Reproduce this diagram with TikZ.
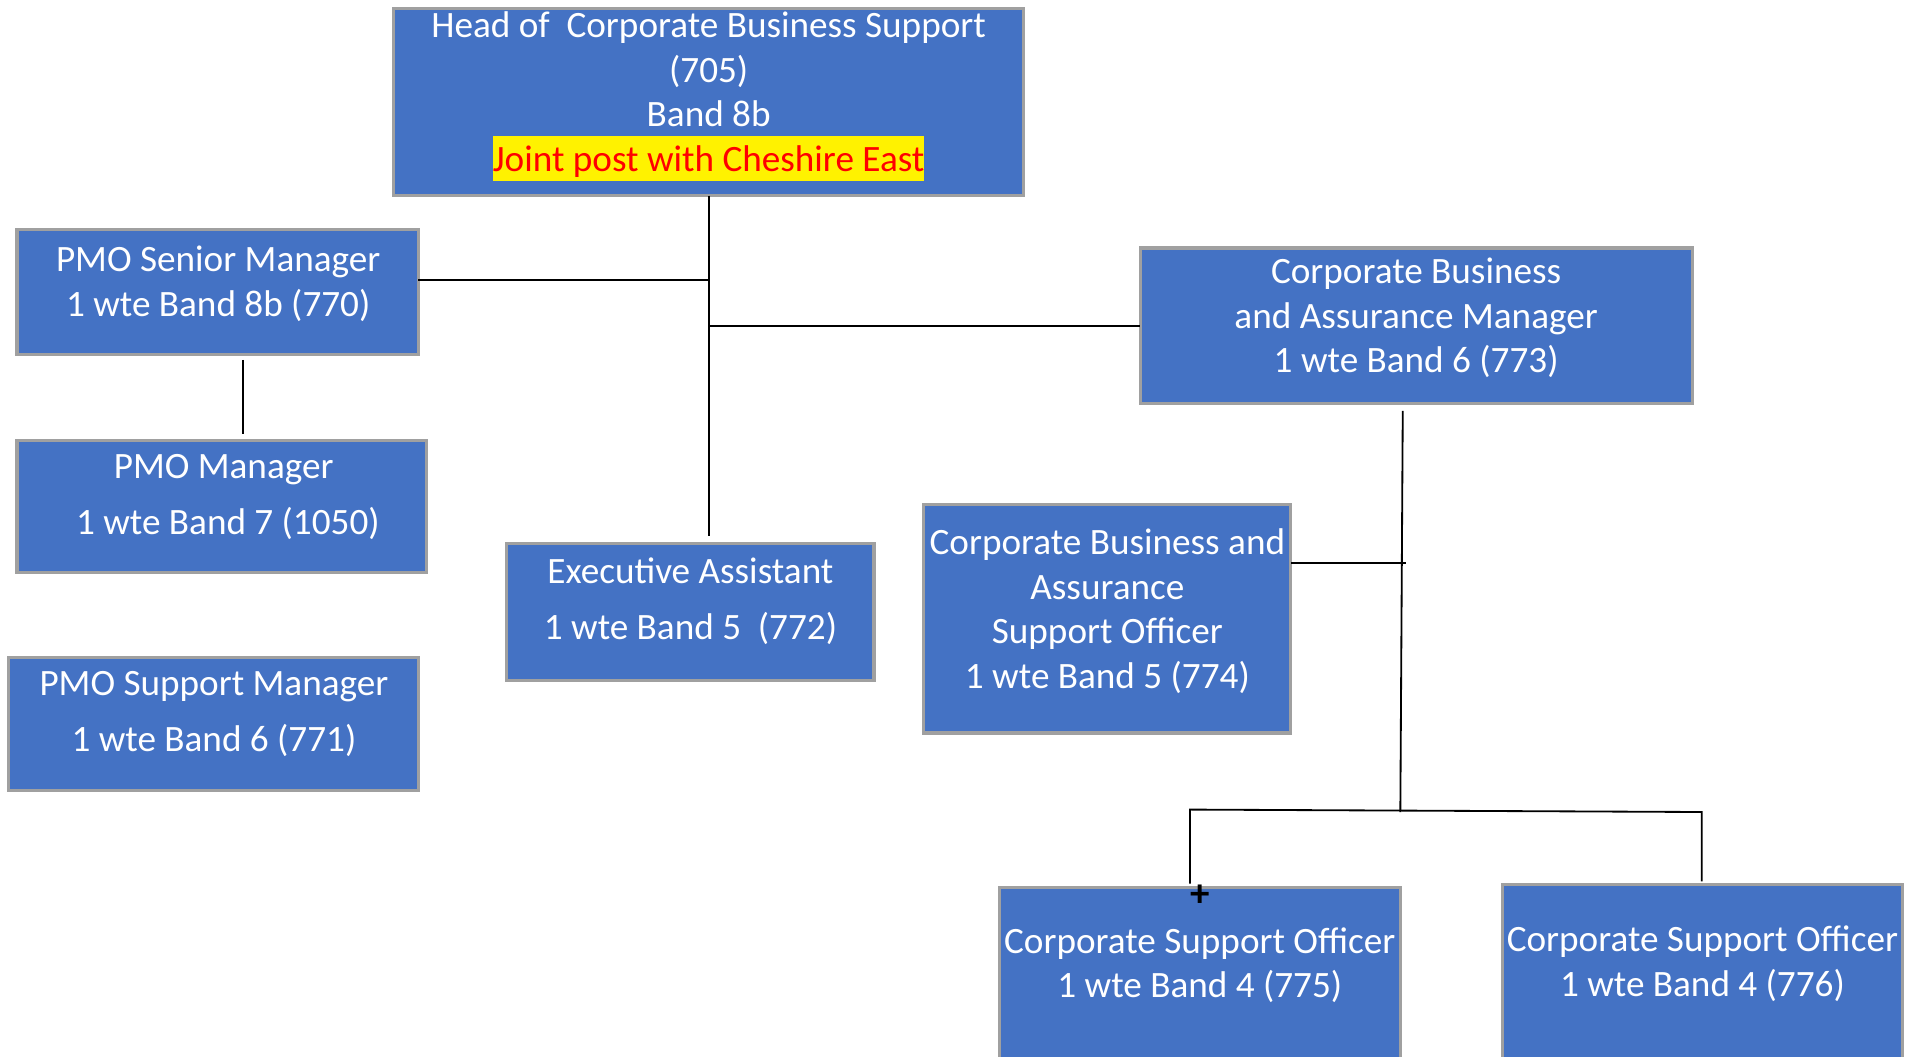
\documentclass[tikz,border=0pt]{standalone}
\usepackage{fontspec}
\setmainfont{Carlito}
\definecolor{boxblue}{HTML}{4472C4}
\definecolor{boxgray}{RGB}{160,160,160}
\begin{document}
\begin{tikzpicture}[x=0.5pt,y=-0.5pt,
  box/.style={draw=boxgray, line width=1.25pt, fill=boxblue, inner sep=0pt, outer sep=0pt},
  txt/.style={text=white, align=center, inner sep=0pt, font=\fontsize{15.3}{18.35}\selectfont},
  conn/.style={draw=black, line width=0.75pt}
]
\useasboundingbox (0,0) rectangle (1568,869);
\clip (0,0) rectangle (1568,869);
\setlength{\fboxsep}{0pt}
% boxes
\node[box, minimum width=259pt, minimum height=77pt] (hd) at (583,84) {};
\node[box, minimum width=165pt, minimum height=51.5pt] (psm) at (179,240.5) {};
\node[box, minimum width=168.5pt, minimum height=54.5pt] (pm) at (182.5,416.5) {};
\node[box, minimum width=168.5pt, minimum height=54.5pt] (psup) at (175.5,595.5) {};
\node[box, minimum width=151pt, minimum height=56.5pt] (ea) at (568,503.5) {};
\node[box, minimum width=227pt, minimum height=64pt] (cbam) at (1165,268) {};
\node[box, minimum width=151pt, minimum height=94pt] (cbaso) at (911,509) {};
\node[box, minimum width=165pt, minimum height=80pt] (cso1) at (987,810) {};
\node[box, minimum width=164.5pt, minimum height=81pt] (cso2) at (1400.5,809) {};
% texts
\node[txt] (hdT) at (583,78.5) {\strut Head of\ \ Corporate Business Support\\(705)\\Band 8b\\\colorbox{yellow}{\rule[-4pt]{0pt}{18.5pt}\textcolor{red}{Joint post with Cheshire East}}\strut};
\node[txt] (psmT) at (179.5,234.5) {\strut PMO Senior Manager\\1 wte Band 8b (770)\strut};
\node[txt] (pmT) at (184,409.5) {\strut PMO Manager\\[4.6pt]\ 1 wte Band 7 (1050)\strut};
\node[txt] (psupT) at (176,588) {\strut PMO Support Manager\\[4.6pt]1 wte Band 6 (771)\strut};
\node[txt] (eaT) at (568,495.5) {\strut Executive Assistant\\[4.6pt]1 wte Band 5\ \ (772)\strut};
\node[txt] (cbamT) at (1165,262.5) {\strut Corporate Business\\and Assurance Manager\\1 wte Band 6 (773)\strut};
\node[txt] (cbasoT) at (911,504) {\strut Corporate Business and\\Assurance\\Support Officer\\1 wte Band 5 (774)\strut};
\node[txt] (cso1T) at (987,795) {\strut Corporate Support Officer\\1 wte Band 4 (775)\strut};
\node[txt] (cso2T) at (1400.5,794) {\strut Corporate Support Officer\\1 wte Band 4 (776)\strut};
% junction coordinates
\coordinate (eaEnd) at (583,441);
\coordinate (j1) at (583,230);
\coordinate (j2) at (583,268);
\coordinate (psmBot) at (200,296);
\coordinate (pmTop) at (200,357);
\coordinate (cbamBot) at (1154,338);
\coordinate (jr) at (1152,668);
\coordinate (jo) at (1157,463);
\coordinate (c1Top) at (979,727);
\coordinate (c1Corner) at (979,666);
\coordinate (c2Corner) at (1400,668);
\coordinate (c2Top) at (1400,725);
% connectors
\draw[conn] (hd.south) -- (eaEnd);
\draw[conn] (psm.east |- j1) -- (j1);
\draw[conn] (j2) -- (cbam.west);
\draw[conn] (psmBot) -- (pmTop);
\draw[conn] (cbamBot) -- (jr);
\draw[conn] (cbaso.east |- jo) -- (jo);
\draw[conn] (c1Top) -- (c1Corner) -- (c2Corner) -- (c2Top);
\node[inner sep=0pt, font=\fontsize{16}{16}\bfseries] (plus) at (987,737) {+};
\end{tikzpicture}
\end{document}
